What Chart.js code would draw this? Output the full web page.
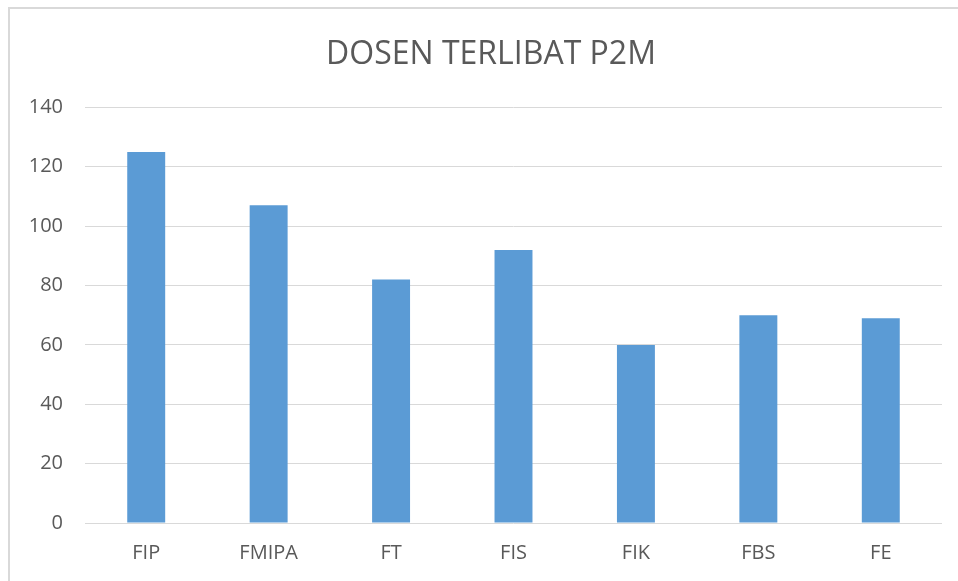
<!DOCTYPE html>
<html>
<head>
<meta charset="utf-8">
<title>Dosen Terlibat P2M</title>
<script src="https://cdn.jsdelivr.net/npm/chart.js@4.4.1/dist/chart.umd.min.js"></script>
<style>
  html, body { margin: 0; padding: 0; background: #fff; }
  #wrap { position: relative; width: 958px; height: 581px; }
  #frame {
    position: absolute; left: 8px; top: 7px; right: 0; bottom: 0;
    border-left: 2px solid #d9d9d9; border-top: 2px solid #d9d9d9;
    pointer-events: none;
  }
  canvas { position: absolute; left: 0; top: 0; }
</style>
</head>
<body>
<div id="wrap">
  <canvas id="barChart" width="958" height="581"></canvas>
  <div id="frame"></div>
</div>
<script>
'use strict';

// ── Data ──────────────────────────────────────────────────────
const fakultas    = ['FIP', 'FMIPA', 'FT', 'FIS', 'FIK', 'FBS', 'FE'];
const jumlahDosen = [125, 107, 82, 92, 60, 70, 69];
const yTicks      = [0, 20, 40, 60, 80, 100, 120, 140];

const titleText = 'DOSEN TERLIBAT P2M';
const textColor = '#595959';
const gridColor = '#d9d9d9';
const barColor  = '#5b9bd5';
const fontFam   = '"Open Sans", "Liberation Sans", sans-serif';

// title sits a bit right of the canvas centre, like the original
const shiftTitle = {
    id: 'shiftTitle',
    afterLayout(chart) { if (chart.titleBlock) chart.titleBlock.left = 40; }
};

// ── Chart ─────────────────────────────────────────────────────
const ctx = document.getElementById('barChart').getContext('2d');
new Chart(ctx, {
    type: 'bar',
    data: {
        labels: fakultas,
        datasets: [{
            label: 'Dosen',
            data: jumlahDosen,
            backgroundColor: barColor,
            borderWidth: 0,
            barPercentage: 1,
            categoryPercentage: 0.31
        }]
    },
    options: {
        responsive: false, animation: false,
        layout: { padding: { left: 0, right: 16, top: 0, bottom: 0 } },
        scales: {
            y: {
                min: 0, max: 140,
                afterFit: s => { s.width = 85; },
                afterBuildTicks: s => { s.ticks = yTicks.map(v => ({ value: v })); },
                border: { display: false },
                grid: { color: gridColor, lineWidth: 1, drawTicks: false },
                ticks: { color: textColor, padding: 22, font: { family: fontFam, size: 20 } }
            },
            x: {
                afterFit: s => { s.height = 58; },
                border: { display: false },
                grid: { display: false, drawTicks: false },
                ticks: { color: textColor, padding: 18, font: { family: fontFam, size: 20 } }
            }
        },
        plugins: {
            legend: { display: false },
            tooltip: { enabled: false },
            title: {
                display: true, text: titleText, color: textColor,
                font: { family: fontFam, size: 32, weight: 'normal', lineHeight: 1.2 },
                padding: { top: 36, bottom: 33 }
            }
        }
    },
    plugins: [shiftTitle]
});
</script>
</body>
</html>
